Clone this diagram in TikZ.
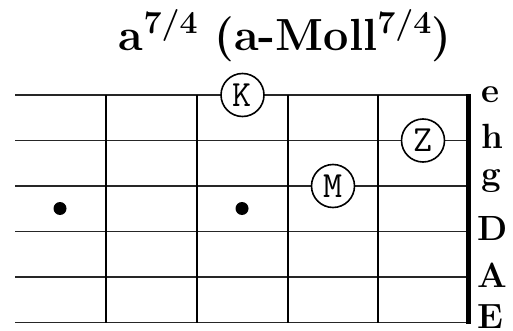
\documentclass[tikz,border=0pt]{standalone}
\usepackage{fontspec}
\newcommand\chordsup[1]{\raisebox{17pt}{\fontsize{32}{32}\selectfont\bfseries #1}}
\begin{document}
\begin{tikzpicture}[x=1pt,y=-1pt,
  gstring/.style={line width=1.4pt, black!85},
  fretline/.style={line width=2pt, black},
  nutline/.style={line width=4.5pt, black},
  finger/.style={circle, draw, line width=1.6pt, fill=white, minimum size=43pt, inner sep=0pt, font=\fontsize{37}{37}\selectfont\ttfamily},
  dotmark/.style={circle, fill=black, minimum size=13pt, inner sep=0pt},
  strlabel/.style={font=\fontsize{35}{35}\selectfont\bfseries, anchor=base west, inner sep=0pt},
  titlestyle/.style={font=\fontsize{45}{45}\selectfont\bfseries, anchor=base, inner sep=0pt}]
\useasboundingbox (0,0) rectangle (513,331);
% strings
\foreach \i/\y in {1/95,2/140.5,3/186,4/231.5,5/277,6/322.5}{
  \coordinate (sL\i) at (15,\y);
  \coordinate (sR\i) at (468.5,\y);
  \draw[gstring] (sL\i) -- (sR\i);
}
% frets
\foreach \j/\x in {1/106,2/197,3/287.5,4/378}{
  \coordinate (fT\j) at (\x,95);
  \coordinate (fB\j) at (\x,322.5);
  \draw[fretline] (fT\j) -- (fB\j);
}
% nut
\coordinate (nT) at (468.5,94);
\coordinate (nB) at (468.5,323.5);
\draw[nutline] (nT) -- (nB);
% title
\node[titlestyle] (title) at (285,51) {a\chordsup{7/4} (a-Moll\chordsup{7/4})};
% string labels
\node[strlabel] (le) at (481,103) {e};
\node[strlabel] (lh) at (481,149) {h};
\node[strlabel] (lg) at (481,185) {g};
\node[strlabel] (lD) at (477,240) {D};
\node[strlabel] (lA) at (477,287) {A};
\node[strlabel] (lE) at (477,328) {E};
% dots
\node[dotmark] (d1) at (60,208.5) {};
\node[dotmark] (d2) at (242,208.5) {};
% fingers
\node[finger] (fK) at (242.5,95) {K};
\node[finger] (fM) at (333,186) {M};
\node[finger] (fZ) at (423,140.5) {Z};
\end{tikzpicture}
\end{document}
